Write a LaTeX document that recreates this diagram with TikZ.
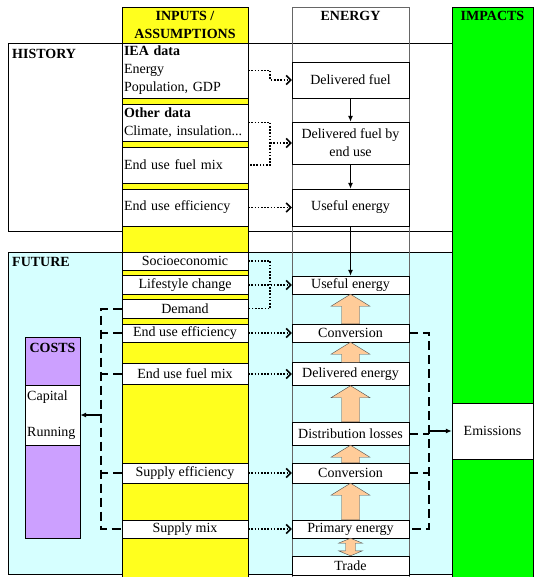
\documentclass[tikz,border=0pt]{standalone}
\usepackage{fontspec}
\setmainfont{Liberation Serif}
\usepackage{tikz}
\usetikzlibrary{arrows.meta,positioning,calc}
\definecolor{inputyellow}{RGB}{255,255,30}
\definecolor{futurecyan}{RGB}{214,255,255}
\definecolor{costpurple}{RGB}{204,160,255}
\definecolor{impactgreen}{RGB}{0,255,0}
\definecolor{flowpeach}{RGB}{255,204,153}
\newcommand{\bodyfont}{\fontsize{14pt}{18pt}\selectfont}
\tikzset{
box/.style={draw, fill=white, inner sep=0pt},
inbox/.style={box, minimum width=126pt},
inleft/.style={inbox, align=left, text width=122pt, inner xsep=2pt},
enbox/.style={box, minimum width=117pt, align=center},
hdr/.style={font=\bodyfont\bfseries},
colline/.style={draw=black!60, thin},
dotted line/.style={line width=1.6pt, dash pattern=on 1.6pt off 1.6pt},
dotted arrow/.style={dotted line, -{Straight Barb[length=4.5pt, width=9pt]}},
arr/.style={-{Latex[length=6pt, width=5pt]}, line width=1.3pt},
dashed line/.style={line width=2pt, dash pattern=on 9pt off 5pt},
bigflow/.style={draw=black!70, fill=flowpeach, thin},
}
\tikzstyle{every node}=[font=\bodyfont]
% wide upward flow arrow from the lower node #1 to the upper node #2
\newcommand{\upflow}[2]{%
    \draw[bigflow] let \p1 = (#1.north), \p2 = (#2.south) in
        (\x1-9pt,\y1) -- (\x1-9pt,\y2-12pt) -- (\x1-19.5pt,\y2-12pt) -- (\x1,\y2)
        -- (\x1+19.5pt,\y2-12pt) -- (\x1+9pt,\y2-12pt) -- (\x1+9pt,\y1) -- cycle;}

\begin{document}
\begin{tikzpicture}[x=1pt, y=-1pt]
        \useasboundingbox (0,0) rectangle (534,577);

        % regions
        \draw[fill=white] (8,43) rectangle (452,231);
        \draw[fill=futurecyan] (8,252) rectangle (452,574);
        \draw[colline] (292,578) -- (292,7) -- (409,7) -- (409,578);
        \draw[fill=inputyellow] (122,7) rectangle (248,578);
        \draw[fill=impactgreen] (452,7) rectangle (533.5,578);
        \draw[fill=costpurple] (25,337) rectangle (80,538);

        \node[hdr, align=center] (INH) at (185,25) {INPUTS /\\ASSUMPTIONS};
        \node[hdr] (ENH) at (350.5,16) {ENERGY};
        \node[hdr] (IMH) at (492.5,16) {IMPACTS};
        \node[hdr, anchor=west, inner sep=0pt] (HIS) at (12,54) {HISTORY};
        \node[hdr, anchor=west, inner sep=0pt] (FUT) at (12,262) {FUTURE};
        \node[hdr] (COH) at (52.5,348) {COSTS};

        % inputs
        \node[inleft, minimum height=55pt] (IEA) at (185,70.5) {\textbf{IEA data}\\Energy\\Population, GDP};
        \node[inleft, minimum height=37pt] (OD) at (185,122.5) {\textbf{Other data}\\Climate, insulation...};
        \node[inleft, minimum height=36pt] (FMH) at (185,165) {End use fuel mix};
        \node[inleft, minimum height=37pt] (EEH) at (185,207.5) {End use efficiency};
        \node[inbox, minimum height=18pt] (SE) at (185,261) {Socioeconomic};
        \node[inbox, minimum height=19pt] (LC) at (185,285) {Lifestyle change};
        \node[inbox, minimum height=19pt] (DM) at (185,308.5) {Demand};
        \node[inbox, minimum height=18pt] (EEF) at (185,333) {End use efficiency};
        \node[inbox, minimum height=21pt] (FMF) at (185,374) {End use fuel mix};
        \node[inbox, minimum height=20pt] (SEF) at (185,473) {Supply efficiency};
        \node[inbox, minimum height=18pt] (SM) at (185,529) {Supply mix};

        % energy
        \node[enbox, minimum height=36pt] (DF) at (350.5,80) {Delivered fuel};
        \node[enbox, minimum height=42pt] (DFE) at (350.5,143) {Delivered fuel by\\end use};
        \node[enbox, minimum height=37pt] (UEH) at (350.5,207.5) {Useful energy};
        \node[enbox, minimum height=18pt] (UEF) at (350.5,285) {Useful energy};
        \node[enbox, minimum height=18pt] (CV1) at (350.5,333) {Conversion};
        \node[enbox, minimum height=23pt] (DE) at (350.5,374) {Delivered energy};
        \node[enbox, minimum height=23pt] (DL) at (350.5,433.5) {Distribution losses};
        \node[enbox, minimum height=20pt] (CV2) at (350.5,473) {Conversion};
        \node[enbox, minimum height=18pt] (PE) at (350.5,529) {Primary energy};
        \node[enbox, minimum height=19pt] (TR) at (350.5,565.5) {Trade};

        \node[box, minimum width=81pt, minimum height=56pt] (EM) at (492.5,431) {Emissions};
        \node[box, minimum width=55pt, minimum height=60pt] (CB) at (52.5,415) {};
        \node[anchor=west, inner sep=0pt] (CAP) at (27,397) {Capital};
        \node[anchor=west, inner sep=0pt] (RUN) at (27,433) {Running};

        % history links
        \coordinate (JH) at ($(OD.east)+(22,0)$);
        \draw[dotted arrow] (IEA.east) -- ++(22,0) |- (DF.west);
        \draw[dotted line] (OD.east) -- (JH) -- (JH |- FMH.east) -- (FMH.east);
        \draw[dotted arrow] (JH |- DFE.west) -- (DFE.west);
        \draw[dotted arrow] (EEH.east) -- (UEH.west);

        % future links
        \coordinate (JF) at ($(SE.east)+(22,0)$);
        \draw[dotted line] (SE.east) -- (JF) -- (JF |- DM.east) -- (DM.east);
        \draw[dotted arrow] (LC.east) -- (UEF.west);
        \draw[dotted arrow] (EEF.east) -- (CV1.west);
        \draw[dotted arrow] (FMF.east) -- (DE.west);
        \draw[dotted arrow] (SEF.east) -- (CV2.west);
        \draw[dotted arrow] (SM.east) -- (PE.west);

        \draw[arr] (DF) -- (DFE);
        \draw[arr] (DFE) -- (UEH);
        \draw[arr] (UEH) -- (UEF);

        \upflow{CV1}{UEF}
        \upflow{DE}{CV1}
        \upflow{DL}{DE}
        \upflow{CV2}{DL}
        \upflow{PE}{CV2}
        \draw[bigflow] let \p1 = (TR.north), \p2 = (PE.south) in
            (\x1,\y1) -- (\x1-12pt,\y1+5pt) -- (\x1-5pt,\y1+5pt) -- (\x1-5pt,\y2-5pt)
            -- (\x1-12pt,\y2-5pt) -- (\x1,\y2) -- (\x1+12pt,\y2-5pt) -- (\x1+5pt,\y2-5pt)
            -- (\x1+5pt,\y1+5pt) -- (\x1+12pt,\y1+5pt) -- cycle;

        % costs and emissions
        \coordinate (CL) at (101,0);
        \coordinate (CR) at (429,0);
        \draw[dashed line] (DM.west) -- (DM.west -| CL) -- (SM.west -| CL) -- (SM.west);
        \foreach \n in {EEF,FMF,SEF}
            \draw[dashed line] (\n.west) -- (\n.west -| CL);
        \draw[arr] (CL |- CB.east) -- (CB.east);
        \draw[dashed line] (CV1.east) -- (CV1.east -| CR) -- (PE.east -| CR) -- (PE.east);
        \foreach \n in {DL,CV2}
            \draw[dashed line] (\n.east) -- (\n.east -| CR);
        \draw[arr] (CR |- EM.west) -- (EM.west);
\end{tikzpicture}
\end{document}
